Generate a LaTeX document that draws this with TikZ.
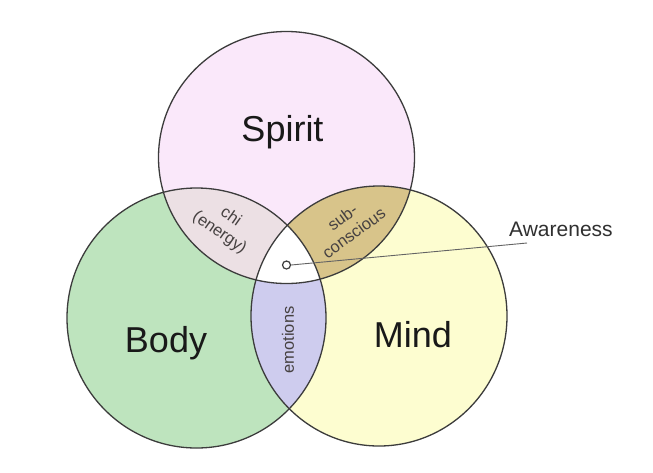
\documentclass[tikz,border=0pt]{standalone}
\usepackage{fontspec}
\setmainfont{Liberation Sans}
\definecolor{spiritc}{RGB}{250,232,250}
\definecolor{bodyc}{RGB}{190,228,190}
\definecolor{mindc}{RGB}{253,253,208}
\definecolor{chic}{RGB}{236,224,228}
\definecolor{subc}{RGB}{216,196,138}
\definecolor{emoc}{RGB}{206,204,238}
\definecolor{linegray}{RGB}{60,60,60}
\definecolor{txt}{RGB}{25,25,25}
\definecolor{smalltxt}{RGB}{70,65,65}
\begin{document}
\begin{tikzpicture}[x=1pt,y=-1pt,
  ring/.style={draw=linegray, line width=1.3pt},
  leader/.style={draw=linegray!80, line width=0.9pt},
  big/.style={font=\fontsize{36}{40}\selectfont, text=txt, inner sep=0pt},
  small/.style={font=\fontsize{16.5}{19.5}\selectfont, text=smalltxt, align=center, inner sep=0pt}]
\useasboundingbox[fill=white] (0,0) rectangle (653,472);
\def\spiritpath{(286.5,157.5) ellipse [x radius=128pt, y radius=126pt]}
\def\bodypath{(196.5,318) ellipse [x radius=129.5pt, y radius=130pt]}
\def\mindpath{(379,316) ellipse [x radius=128pt, y radius=130pt]}
% base fills
\fill[spiritc] \spiritpath;
\fill[bodyc] \bodypath;
\fill[mindc] \mindpath;
% pairwise overlaps
\begin{scope}
  \clip \spiritpath;
  \fill[chic] \bodypath;
  \fill[subc] \mindpath;
\end{scope}
\begin{scope}
  \clip \bodypath;
  \fill[emoc] \mindpath;
\end{scope}
% triple overlap
\begin{scope}
  \clip \spiritpath;
  \clip \bodypath;
  \fill[white] \mindpath;
\end{scope}
% outlines
\draw[ring] \spiritpath;
\draw[ring] \bodypath;
\draw[ring] \mindpath;
% labels
\node[big, anchor=base] (spirit) at (282.5,141) {Spirit};
\node[big, anchor=base] (body) at (166,352) {Body};
\node[big, anchor=base] (mind) at (413,347) {Mind};
\node[small, rotate=-35] (chi) at (225,225) {chi\\(energy)};
\node[small, rotate=36] (sub) at (348,225) {sub-\\conscious};
\node[small, rotate=90] (emo) at (288,340) {emotions};
% awareness
\node[circle, draw=linegray, line width=1.2pt, minimum size=8pt, inner sep=0pt] (dot) at (286.5,265) {};
\node[anchor=base west, font=\fontsize{21}{24}\selectfont, text=txt!90, inner sep=0pt] (aw) at (509,236) {Awareness};
\coordinate (awend) at (527,243);
\draw[leader] (dot.east) -- (awend);
\end{tikzpicture}
\end{document}
